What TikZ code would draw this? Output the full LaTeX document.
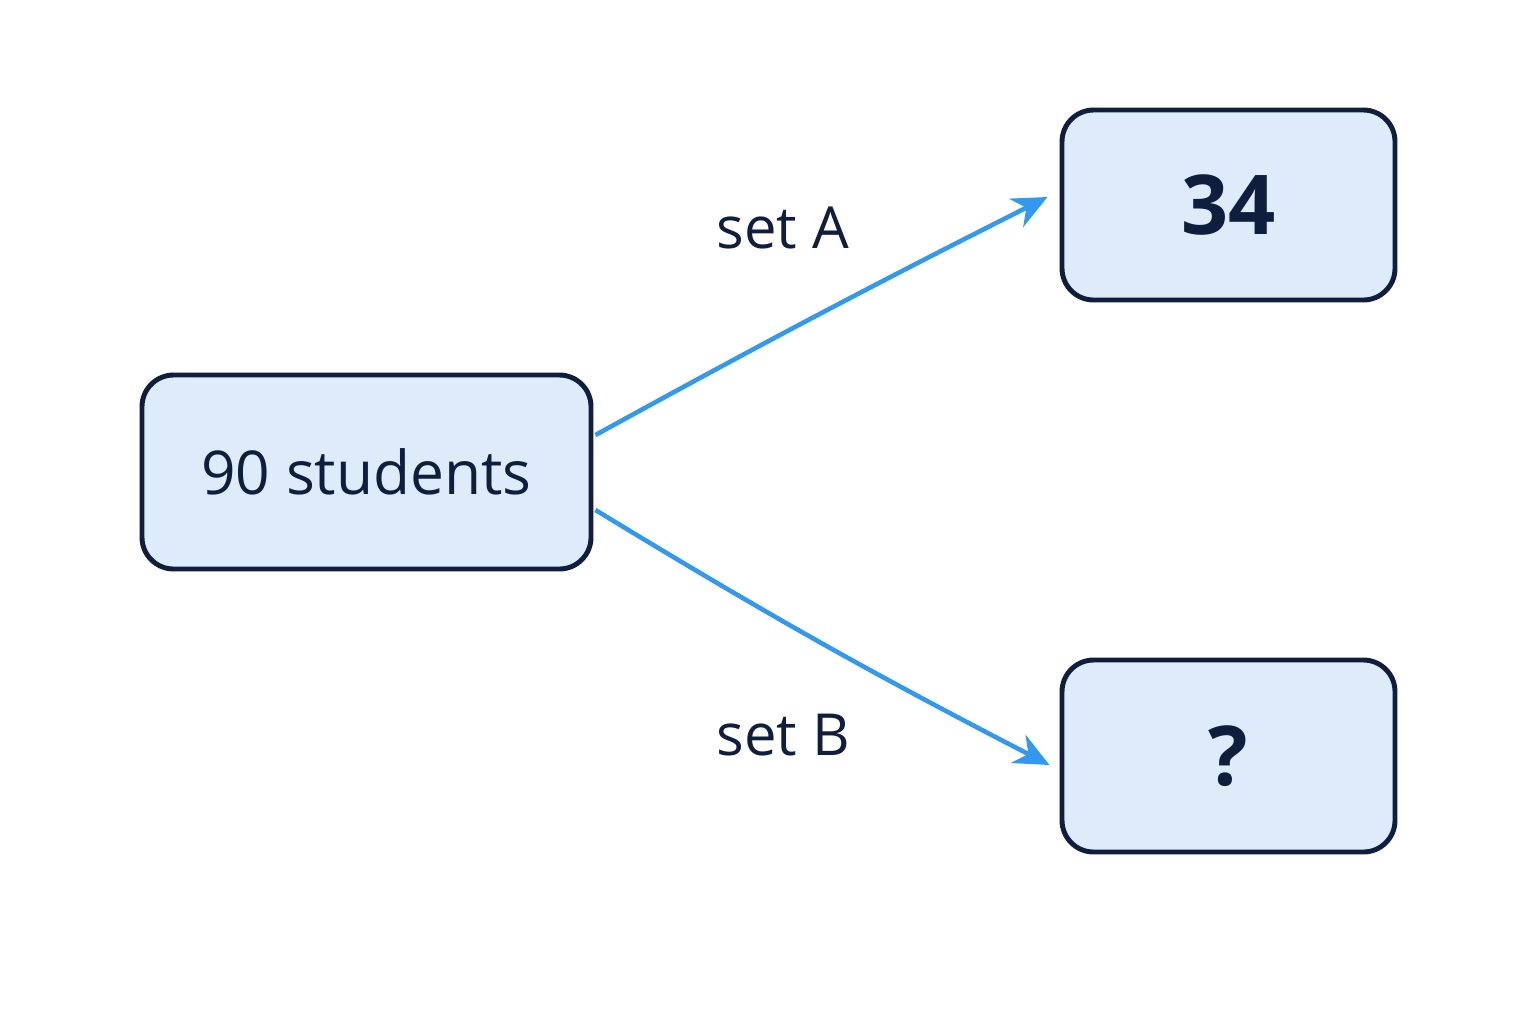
\documentclass[tikz,border=0pt]{standalone}
\usepackage{fontspec}
\setmainfont{Open Sans}
\usetikzlibrary{arrows.meta, calc}
\definecolor{boxfill}{HTML}{DDEBFB}
\definecolor{boxline}{HTML}{0F1E3C}
\definecolor{arrowblue}{HTML}{3399EE}
\begin{document}
\begin{tikzpicture}[x=1cm, y=1cm,
  box/.style={draw=boxline, fill=boxfill, line width=1.4pt, rounded corners=9pt, text=boxline, inner sep=0pt},
  link/.style={arrowblue, line width=1.3pt, -{Stealth[length=10pt, width=9pt]}},
  lbl/.style={text=boxline, font=\fontsize{16.5}{20}\selectfont}]
\useasboundingbox (0,0) rectangle (15.36,-10.24);
\node[box, minimum width=4.49cm, minimum height=1.94cm, font=\fontsize{17.2}{20}\selectfont] (students) at (3.665,-4.72) {90 students};
\node[box, minimum width=3.33cm, minimum height=1.90cm, font=\bfseries\fontsize{23.5}{28}\selectfont] (setA) at (12.285,-2.05) {34};
\node[box, minimum width=3.33cm, minimum height=1.92cm, font=\bfseries\fontsize{23.5}{28}\selectfont] (setB) at (12.285,-7.56) {?};
\draw[link] ($(students.east)+(0.02,0.37)$) to[bend left=1] ($(setA.west)+(-0.12,0.08)$);
\draw[link] ($(students.east)+(0.02,-0.38)$) to[bend right=2] ($(setB.west)+(-0.10,-0.09)$);
\node[lbl] (labelA) at (7.83,-2.28) {set A};
\node[lbl] (labelB) at (7.83,-7.35) {set B};
\end{tikzpicture}
\end{document}
